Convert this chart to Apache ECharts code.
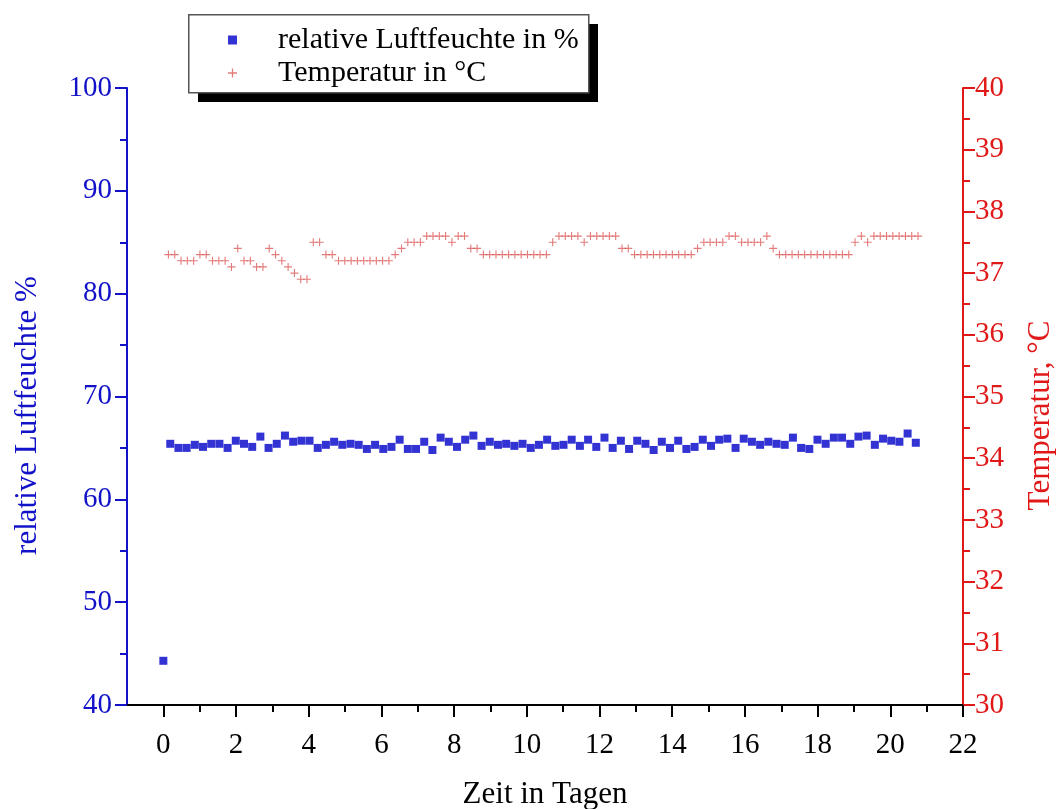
<!DOCTYPE html>
<html>
<head>
<meta charset="utf-8">
<style>
  html, body { margin: 0; padding: 0; background: #fff; }
  #chart { width: 1057px; height: 809px; }
</style>
<script src="https://cdn.jsdelivr.net/npm/echarts@6/dist/echarts.min.js"></script>
</head>
<body>
<div id="chart"></div>
<script>
// first humidity reading, taken at day 0
var humidityInitial = [0, 44.3];

// humidity readings after that, logged at a constant interval (days)
var humidityStart = 0.19;
var humidityStep  = 0.2254;
var humidityValues = [
    65.4, 65.0, 65.0, 65.3, 65.1, 65.4, 65.4, 65.0, 65.7, 65.4,
    65.1, 66.1, 65.0, 65.4, 66.2, 65.6, 65.7, 65.7, 65.0, 65.3,
    65.6, 65.3, 65.4, 65.3, 64.9, 65.3, 64.9, 65.1, 65.8, 64.9,
    64.9, 65.6, 64.8, 66.0, 65.6, 65.1, 65.8, 66.2, 65.2, 65.6,
    65.3, 65.4, 65.2, 65.4, 65.0, 65.3, 65.8, 65.2, 65.3, 65.8,
    65.2, 65.8, 65.1, 66.0, 65.0, 65.7, 64.9, 65.7, 65.4, 64.8,
    65.6, 65.0, 65.7, 64.9, 65.1, 65.8, 65.2, 65.8, 65.9, 65.0,
    65.9, 65.6, 65.3, 65.6, 65.4, 65.3, 66.0, 65.0, 64.9, 65.8,
    65.4, 66.0, 66.0, 65.4, 66.1, 66.2, 65.3, 65.9, 65.7, 65.6,
    66.4, 65.5
];

// temperature readings, logged at a constant interval (days)
var tempStart = 0.14;
var tempStep  = 0.1733;
var tempValues = [
    37.3, 37.3, 37.2, 37.2, 37.2, 37.3, 37.3, 37.2, 37.2, 37.2,
    37.1, 37.4, 37.2, 37.2, 37.1, 37.1, 37.4, 37.3, 37.2, 37.1,
    37.0, 36.9, 36.9, 37.5, 37.5, 37.3, 37.3, 37.2, 37.2, 37.2,
    37.2, 37.2, 37.2, 37.2, 37.2, 37.2, 37.3, 37.4, 37.5, 37.5,
    37.5, 37.6, 37.6, 37.6, 37.6, 37.5, 37.6, 37.6, 37.4, 37.4,
    37.3, 37.3, 37.3, 37.3, 37.3, 37.3, 37.3, 37.3, 37.3, 37.3,
    37.3, 37.5, 37.6, 37.6, 37.6, 37.6, 37.5, 37.6, 37.6, 37.6,
    37.6, 37.6, 37.4, 37.4, 37.3, 37.3, 37.3, 37.3, 37.3, 37.3,
    37.3, 37.3, 37.3, 37.3, 37.4, 37.5, 37.5, 37.5, 37.5, 37.6,
    37.6, 37.5, 37.5, 37.5, 37.5, 37.6, 37.4, 37.3, 37.3, 37.3,
    37.3, 37.3, 37.3, 37.3, 37.3, 37.3, 37.3, 37.3, 37.3, 37.5,
    37.6, 37.5, 37.6, 37.6, 37.6, 37.6, 37.6, 37.6, 37.6, 37.6
];

// axis ticks
var dayLabels   = [0, 2, 4, 6, 8, 10, 12, 14, 16, 18, 20, 22];
var dayMinor    = [1, 3, 5, 7, 9, 11, 13, 15, 17, 19, 21];

var humidityName = 'relative Luftfeuchte in %';
var tempName     = 'Temperatur in °C';

var blue  = '#1212c8';
var red   = '#e01818';
var font  = 'Liberation Serif';
var plus  = 'path://M0,4.3H10V5.7H0Z M4.3,0H5.7V10H4.3Z';

var humidityData = [humidityInitial];
humidityValues.forEach(function(v, i)
{
    humidityData.push([humidityStart + i * humidityStep, v]);
});

var tempData = [];
tempValues.forEach(function(v, i)
{
    tempData.push([tempStart + i * tempStep, v]);
});

var chart = echarts.init(document.getElementById('chart'), null, {renderer: 'canvas'});

var option = {
    backgroundColor: '#fff',
    animation: false,
    textStyle: { fontFamily: font },
    grid: {
        left: 127,
        right: 94,
        top: 88,
        bottom: 104,
        outerBoundsMode: 'none'
    },
    // legend frame with its hard drop shadow
    graphic: [
        {
            type: 'rect',
            left: 198,
            top: 24,
            z: 10,
            shape: { width: 400, height: 78 },
            style: { fill: '#000' }
        },
        {
            type: 'rect',
            left: 188,
            top: 14,
            z: 11,
            shape: { width: 400, height: 78 },
            style: { fill: '#fff', stroke: '#555', lineWidth: 1.5 }
        }
    ],
    legend: {
        orient: 'vertical',
        left: 188,
        top: 14,
        z: 12,
        padding: [11, 8, 8, 40],
        itemGap: 3,
        itemWidth: 9,
        itemHeight: 9,
        textStyle: {
            fontFamily: font,
            fontSize: 30,
            lineHeight: 30,
            color: '#000',
            padding: [0, 0, 0, 36]
        },
        data: [humidityName, tempName]
    },
    xAxis: [
        {
            type: 'value',
            min: -1,
            max: 22,
            name: 'Zeit in Tagen',
            nameLocation: 'middle',
            nameGap: 74,
            nameTextStyle: { fontFamily: font, fontSize: 31, color: '#000' },
            axisLine: { show: true, onZero: false, lineStyle: { color: '#000', width: 2 } },
            axisTick: {
                show: true,
                length: 12,
                customValues: dayLabels,
                lineStyle: { color: '#000', width: 2 }
            },
            axisLabel: {
                customValues: dayLabels,
                margin: 26,
                fontFamily: font,
                fontSize: 29,
                color: '#000'
            },
            splitLine: { show: false }
        },
        {
            type: 'value',
            min: -1,
            max: 22,
            position: 'bottom',
            axisLine: { show: false },
            axisTick: {
                show: true,
                length: 7,
                customValues: dayMinor,
                lineStyle: { color: '#000', width: 2 }
            },
            axisLabel: { show: false },
            splitLine: { show: false }
        }
    ],
    yAxis: [
        {
            type: 'value',
            min: 40,
            max: 100,
            interval: 10,
            position: 'left',
            name: 'relative Luftfeuchte %',
            nameLocation: 'middle',
            nameRotate: 90,
            nameGap: 84,
            nameTextStyle: { fontFamily: font, fontSize: 31, color: blue, padding: [0, 38, 0, 0] },
            axisLine: { show: true, onZero: false, lineStyle: { color: blue, width: 2 } },
            axisTick: { show: true, length: 12, lineStyle: { color: blue, width: 2 } },
            minorTick: { show: true, splitNumber: 2, length: 7, lineStyle: { color: blue, width: 2 } },
            axisLabel: { margin: 15, fontFamily: font, fontSize: 29, color: blue },
            splitLine: { show: false }
        },
        {
            type: 'value',
            min: 30,
            max: 40,
            interval: 1,
            position: 'right',
            name: 'Temperatur, °C',
            nameLocation: 'middle',
            nameRotate: 90,
            nameGap: 62,
            nameTextStyle: { fontFamily: font, fontSize: 31, color: red, padding: [0, 38, 0, 0] },
            axisLine: { show: true, onZero: false, lineStyle: { color: red, width: 2 } },
            axisTick: { show: true, length: 12, lineStyle: { color: red, width: 2 } },
            minorTick: { show: true, splitNumber: 2, length: 7, lineStyle: { color: red, width: 2 } },
            axisLabel: { margin: 12, fontFamily: font, fontSize: 29, color: red },
            splitLine: { show: false }
        }
    ],
    series: [
        {
            name: humidityName,
            type: 'scatter',
            xAxisIndex: 0,
            yAxisIndex: 0,
            symbol: 'rect',
            symbolSize: 8,
            itemStyle: { color: '#0000c8' },
            data: humidityData
        },
        {
            name: tempName,
            type: 'scatter',
            xAxisIndex: 0,
            yAxisIndex: 1,
            symbol: plus,
            symbolSize: 8,
            itemStyle: { color: '#dc5a5a' },
            data: tempData
        }
    ]
};

option && chart.setOption(option);
</script>
</body>
</html>
